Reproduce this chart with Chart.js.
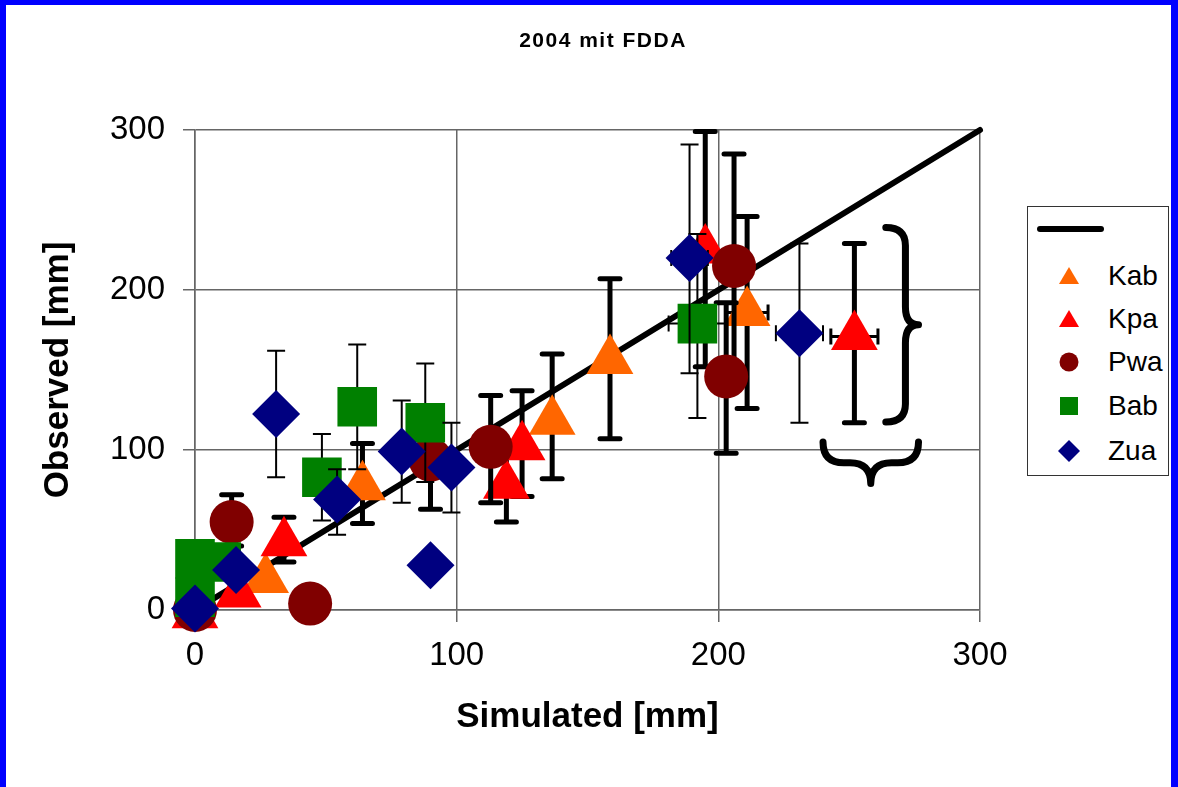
<!DOCTYPE html>
<html>
<head>
<meta charset="utf-8">
<title>2004 mit FDDA</title>
<script src="https://cdn.jsdelivr.net/npm/chart.js@4"></script>
<style>
  html, body { margin: 0; padding: 0; background: #fff; }
  #wrap { position: relative; width: 1178px; height: 787px; overflow: hidden; background: #fff; }
  #chart { position: absolute; left: 0; top: 0; }
  #title { position: absolute; left: 603px; top: 28px; transform: translateX(-50%); white-space: nowrap;
           font-family: "Liberation Sans", Arial, sans-serif; font-weight: bold; font-size: 21px;
           letter-spacing: 1.5px; line-height: 24px; color: #000; }
  #frame { position: absolute; left: 0; top: 0; width: 1178px; height: 787px; box-sizing: border-box;
           border-style: solid; border-color: #0000ff; border-width: 5px 7px 0 6px; pointer-events: none; }
  #legend { position: absolute; left: 1027px; top: 206px; width: 142px; height: 270px; box-sizing: border-box;
            border: 1px solid #333; background: #fff; font-family: "Liberation Sans", Arial, sans-serif; }
  .row { position: absolute; left: 0; width: 140px; height: 30px; }
  .row svg { position: absolute; left: 30px; top: 4px; }
  .row span { position: absolute; left: 80px; top: 0; font-size: 28px; line-height: 30px; color: #000; }
  .lineSample { position: absolute; left: 9px; top: 19px; width: 67px; height: 6px; border-radius: 3px; background: #000; }
</style>
</head>
<body>
<div id="wrap">
  <canvas id="chart" width="1178" height="787"></canvas>
  <div id="title">2004 mit FDDA</div>
  <div id="legend"><div class="lineSample"></div></div>
  <div id="frame"></div>
</div>
<script>
// Series names, in legend order
const seriesNames = ['Kab', 'Kpa', 'Pwa', 'Bab', 'Zua'];

// Kab (orange triangles)
const kabX    = [27, 64, 136.5, 158.6, 211];
const kabY    = [19, 77, 118, 156, 186];
const kabLow  = [null, 54, 82, 107, 126];
const kabHigh = [null, 104, 160, 207, 246];
const kabXErr = [0, 0, 0, 0, 8];

// Kpa (red triangles)
const kpaX    = [0, 16.5, 34, 119, 125, 195, 252];
const kpaY    = [-3, 10, 42, 78, 102, 225, 171];
const kpaLow  = [null, null, 30, 55, 71, 152, 117];
const kpaHigh = [null, null, 58, 100, 137, 299, 229];
const kpaXErr = [0, 0, 0, 0, 0, 0, 9];

// Pwa (dark red circles)
const pwaX    = [0, 14, 44, 90, 113, 206, 203];
const pwaY    = [0, 55, 4, 94, 102, 215, 146];
const pwaLow  = [null, 40, null, 63, 67, 150, 98];
const pwaHigh = [null, 72, null, 112, 134, 285, 192];
const pwaXErr = [0, 0, 0, 0, 0, 0, 0];

// Bab (green squares)
const babX    = [0, 10, 0, 48.5, 62, 88, 192];
const babY    = [32, 30, 8, 83, 127, 117, 179];
const babLow  = [null, null, null, 56, 88, 80, 120];
const babHigh = [null, null, null, 110, 166, 154, 235];
const babXErr = [0, 0, 0, 0, 0, 0, 11];

// Zua (navy diamonds)
const zuaX    = [31, 0, 15.7, 54.3, 79, 90, 98, 189, 231];
const zuaY    = [122.5, 1, 25, 69, 99, 28, 89, 220, 173];
const zuaLow  = [83, null, null, 47, 67, null, 61, 148, 117];
const zuaHigh = [162, null, null, 88, 131, null, 117, 291, 229];
const zuaXErr = [0, 0, 0, 0, 0, 0, 0, 7, 9];

// 1:1 line and axis ticks
const lineX = [0, 300];
const lineY = [0, 300];
const tickValues = [0, 100, 200, 300];

const FONT = '"Liberation Sans", Arial, sans-serif';

function pts(xs, ys) {
    return xs.map((x, i) => ({ x: x, y: ys[i] }));
}

function series(name, xs, ys, low, high, xerr, style, color, radius, thick, order) {
    return {
        label: name,
        data: pts(xs, ys),
        errLow: low, errHigh: high, errX: xerr,
        errWidth: thick ? 5 : 2,
        errCap: thick ? 10 : 9,
        pointStyle: style,
        pointRadius: radius,
        pointBackgroundColor: color,
        pointBorderColor: color,
        pointBorderWidth: 0,
        backgroundColor: color,
        borderColor: color,
        showLine: false,
        clip: false,
        order: order
    };
}

// Draw error bars under each dataset's own markers
const errorBars = {
    id: 'errorBars',
    beforeDatasetDraw(chart, args) {
        const ds = chart.data.datasets[args.index];
        if (!ds.errLow) return;
        const ctx = chart.ctx;
        const xs = chart.scales.x, ys = chart.scales.y;
        ctx.save();
        ctx.strokeStyle = '#000';
        ds.data.forEach((p, i) => {
            const px = xs.getPixelForValue(p.x);
            const py = ys.getPixelForValue(p.y);
            if (ds.errLow[i] != null) {
                const y1 = ys.getPixelForValue(ds.errLow[i]);
                const y2 = ys.getPixelForValue(ds.errHigh[i]);
                const c = ds.errCap;
                ctx.lineWidth = ds.errWidth;
                ctx.lineCap = ds.errWidth > 3 ? 'round' : 'butt';
                ctx.beginPath();
                ctx.moveTo(px, y1); ctx.lineTo(px, y2);
                ctx.moveTo(px - c, y1); ctx.lineTo(px + c, y1);
                ctx.moveTo(px - c, y2); ctx.lineTo(px + c, y2);
                ctx.stroke();
            }
            if (ds.errX && ds.errX[i]) {
                const x1 = xs.getPixelForValue(p.x - ds.errX[i]);
                const x2 = xs.getPixelForValue(p.x + ds.errX[i]);
                ctx.lineWidth = ds.errWidth > 3 ? 3 : 2;
                ctx.lineCap = 'butt';
                ctx.beginPath();
                ctx.moveTo(x1, py); ctx.lineTo(x2, py);
                ctx.moveTo(x1, py - 8); ctx.lineTo(x1, py + 8);
                ctx.moveTo(x2, py - 8); ctx.lineTo(x2, py + 8);
                ctx.stroke();
            }
        });
        ctx.restore();
    }
};

// Curly braces next to the Kpa / Zua outliers
const braces = {
    id: 'braces',
    afterDatasetsDraw(chart) {
        const ctx = chart.ctx;
        const xs = chart.scales.x, ys = chart.scales.y;
        ctx.save();
        ctx.strokeStyle = '#000';
        ctx.lineWidth = 7;
        ctx.lineCap = 'round';
        ctx.lineJoin = 'round';

        // right brace "}"
        const bx = xs.getPixelForValue(264);
        const tip = xs.getPixelForValue(276.5);
        const yTop = ys.getPixelForValue(239);
        const yBot = ys.getPixelForValue(117.5);
        const yMid = (yTop + yBot) / 2;
        const mx = bx + (tip - bx) * 0.6;
        const r = 18;
        ctx.beginPath();
        ctx.moveTo(bx, yTop);
        ctx.quadraticCurveTo(mx, yTop, mx, yTop + r);
        ctx.lineTo(mx, yMid - r);
        ctx.quadraticCurveTo(mx, yMid, tip, yMid);
        ctx.quadraticCurveTo(mx, yMid, mx, yMid + r);
        ctx.lineTo(mx, yBot - r);
        ctx.quadraticCurveTo(mx, yBot, bx, yBot);
        ctx.stroke();

        // bottom brace
        const x1 = xs.getPixelForValue(240);
        const x2 = xs.getPixelForValue(276.5);
        const xm = (x1 + x2) / 2;
        const t = ys.getPixelForValue(105);
        const h = ys.getPixelForValue(79) - t;
        const a = h * 0.5;
        ctx.beginPath();
        ctx.moveTo(x1, t);
        ctx.quadraticCurveTo(x1, t + a, x1 + a, t + a);
        ctx.lineTo(xm - a, t + a);
        ctx.quadraticCurveTo(xm, t + a, xm, t + h);
        ctx.quadraticCurveTo(xm, t + a, xm + a, t + a);
        ctx.lineTo(x2 - a, t + a);
        ctx.quadraticCurveTo(x2, t + a, x2, t);
        ctx.stroke();
        ctx.restore();
    }
};

const colors = ['#ff6600', '#ff0000', '#800000', '#008000', '#000080'];

const datasets = [
    {
        label: '',
        data: pts(lineX, lineY),
        showLine: true,
        borderColor: '#000',
        borderWidth: 6,
        borderCapStyle: 'round',
        pointRadius: 0,
        clip: false,
        order: 6
    },
    series('Kab', kabX, kabY, kabLow, kabHigh, kabXErr, 'triangle', colors[0], 27, true, 5),
    series('Kpa', kpaX, kpaY, kpaLow, kpaHigh, kpaXErr, 'triangle', colors[1], 27, true, 4),
    series('Pwa', pwaX, pwaY, pwaLow, pwaHigh, pwaXErr, 'circle', colors[2], 22, true, 3),
    series('Bab', babX, babY, babLow, babHigh, babXErr, 'rect', colors[3], 28, false, 2),
    series('Zua', zuaX, zuaY, zuaLow, zuaHigh, zuaXErr, 'rectRot', colors[4], 24, false, 1)
];

const gridStyle = { color: '#666', lineWidth: 1.5, tickLength: 12, tickColor: '#666' };

new Chart(document.getElementById('chart'), {
    type: 'scatter',
    data: { datasets: datasets },
    options: {
        responsive: false,
        animation: false,
        events: [],
        layout: { padding: { left: 0, right: 198, top: 130, bottom: 0 } },
        plugins: {
            legend: { display: false },
            tooltip: { enabled: false },
            title: { display: false }
        },
        scales: {
            x: {
                type: 'linear',
                min: 0, max: 300,
                afterBuildTicks: s => { s.ticks = tickValues.map(v => ({ value: v })); },
                afterFit: s => { s.height = 177; },
                grid: gridStyle,
                border: { color: '#666', width: 1.5 },
                ticks: { color: '#000', padding: 14, maxRotation: 0, font: { family: FONT, size: 33 } },
                title: {
                    display: true, text: 'Simulated [mm]', color: '#000',
                    font: { family: FONT, size: 35, weight: 'bold' },
                    padding: { bottom: 49 }
                }
            },
            y: {
                type: 'linear',
                min: 0, max: 300,
                afterBuildTicks: s => { s.ticks = tickValues.map(v => ({ value: v })); },
                afterFit: s => { s.width = 195; },
                grid: gridStyle,
                border: { color: '#666', width: 1.5 },
                ticks: { color: '#000', padding: 18, font: { family: FONT, size: 33 } },
                title: {
                    display: true, text: 'Observed [mm]', color: '#000',
                    font: { family: FONT, size: 35, weight: 'bold' },
                    padding: { top: 37 }
                }
            }
        }
    },
    plugins: [errorBars, braces]
});

// Legend box
const legend = document.getElementById('legend');
const rowTops = [54, 97, 140, 184, 229];
const legendShapes = {
    Kab: c => `<polygon points="11,2 21,19 1,19" fill="${c}"/>`,
    Kpa: c => `<polygon points="11,2 21,19 1,19" fill="${c}"/>`,
    Pwa: c => `<circle cx="11" cy="11" r="9.5" fill="${c}"/>`,
    Bab: c => `<rect x="2" y="2" width="18" height="18" fill="${c}"/>`,
    Zua: c => `<polygon points="11,0 22,11 11,22 0,11" fill="${c}"/>`
};
seriesNames.forEach((name, i) => {
    const row = document.createElement('div');
    row.className = 'row';
    row.style.top = rowTops[i] + 'px';
    row.innerHTML = `<svg width="22" height="22" viewBox="0 0 22 22">${legendShapes[name](colors[i])}</svg><span>${name}</span>`;
    legend.appendChild(row);
});
</script>
</body>
</html>
